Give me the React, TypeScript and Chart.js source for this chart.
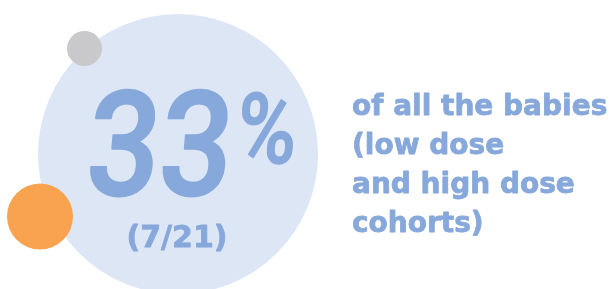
import React, { useEffect, useRef } from "react";
import { Chart, registerables } from "chart.js";

Chart.register(...registerables);

// Data
const affectedBabies = [7];
const totalBabies = [21];
const cohortLines = ["of all the babies", "(low dose", "and high dose", "cohorts)"];

// Decorative bubbles (pixel-space scale)
const bubbleNames = ["main", "grey", "orange"];
const bubbleX = [178, 84.5, 40];
const bubbleY = [154, 48.5, 216.5];
const bubbleR = [140, 17.5, 33];
const bubbleColors = ["#DCE6F5", "#C9C8CB", "#F9A24F"];

const TEXT_COLOR = "#87A8DB";

function drawText(ctx: any, text: string, x: number, y: number, stroke: number, maxW?: number) {
  if (maxW) ctx.fillText(text, x, y, maxW);
  else ctx.fillText(text, x, y);
  if (stroke > 0) {
    ctx.lineWidth = stroke;
    ctx.lineJoin = "round";
    if (maxW) ctx.strokeText(text, x, y, maxW);
    else ctx.strokeText(text, x, y);
  }
}

const textPlugin = {
  id: "infoText",
  afterDatasetsDraw(chart: any) {
    const ctx = chart.ctx;
    const xs = chart.scales.x;
    const ys = chart.scales.y;
    const pct = Math.round((affectedBabies[0] / totalBabies[0]) * 100);
    ctx.save();
    ctx.fillStyle = TEXT_COLOR;
    ctx.strokeStyle = TEXT_COLOR;
    ctx.textBaseline = "alphabetic";
    // big number (slightly slanted)
    ctx.textAlign = "left";
    ctx.save();
    const bx = xs.getPixelForValue(84);
    const by = ys.getPixelForValue(195);
    ctx.translate(bx, by);
    ctx.transform(1, 0, -0.08, 1, 0, 0);
    ctx.font = "500 146px Roboto";
    drawText(ctx, String(pct), 0, 0, 2, 145);
    ctx.font = "500 98px Roboto";
    drawText(ctx, "%", 148, -32, 1.5, 60);
    ctx.restore();
    // fraction
    ctx.textAlign = "center";
    ctx.font = "bold 30px 'DejaVu Sans'";
    drawText(ctx, `(${affectedBabies[0]}/${totalBabies[0]})`, xs.getPixelForValue(177), ys.getPixelForValue(247), 0.8);
    // side text
    ctx.textAlign = "left";
    ctx.font = "bold 28px 'DejaVu Sans'";
    cohortLines.forEach((line, i) => {
      drawText(ctx, line, xs.getPixelForValue(352), ys.getPixelForValue(115 + i * 39), 0.8);
    });
    ctx.restore();
  },
};

export default function App() {
  const ref = useRef<HTMLCanvasElement | null>(null);
  useEffect(() => {
    document.body.style.margin = "0";
    if (!ref.current) return;
    const chart = new Chart(ref.current, {
      type: "bubble",
      data: {
        labels: bubbleNames,
        datasets: [
          {
            data: bubbleNames.map((_, i) => ({ x: bubbleX[i], y: bubbleY[i], r: bubbleR[i] })),
            backgroundColor: bubbleColors,
            borderWidth: 0,
            hoverBorderWidth: 0,
            hoverRadius: 0,
            clip: false,
          },
        ],
      },
      options: {
        animation: false,
        responsive: true,
        maintainAspectRatio: false,
        events: [],
        layout: { padding: 0, autoPadding: false },
        plugins: { legend: { display: false }, tooltip: { enabled: false } },
        scales: {
          x: { type: "linear", min: 0, max: 614, display: false },
          y: { type: "linear", min: 0, max: 289, reverse: true, display: false },
        },
      },
      plugins: [textPlugin],
    });
    return () => chart.destroy();
  }, []);
  return (
    <div style={{ position: "fixed", left: 0, top: 0, width: 614, height: 289, background: "#fff" }}>
      <canvas ref={ref} />
    </div>
  );
}
